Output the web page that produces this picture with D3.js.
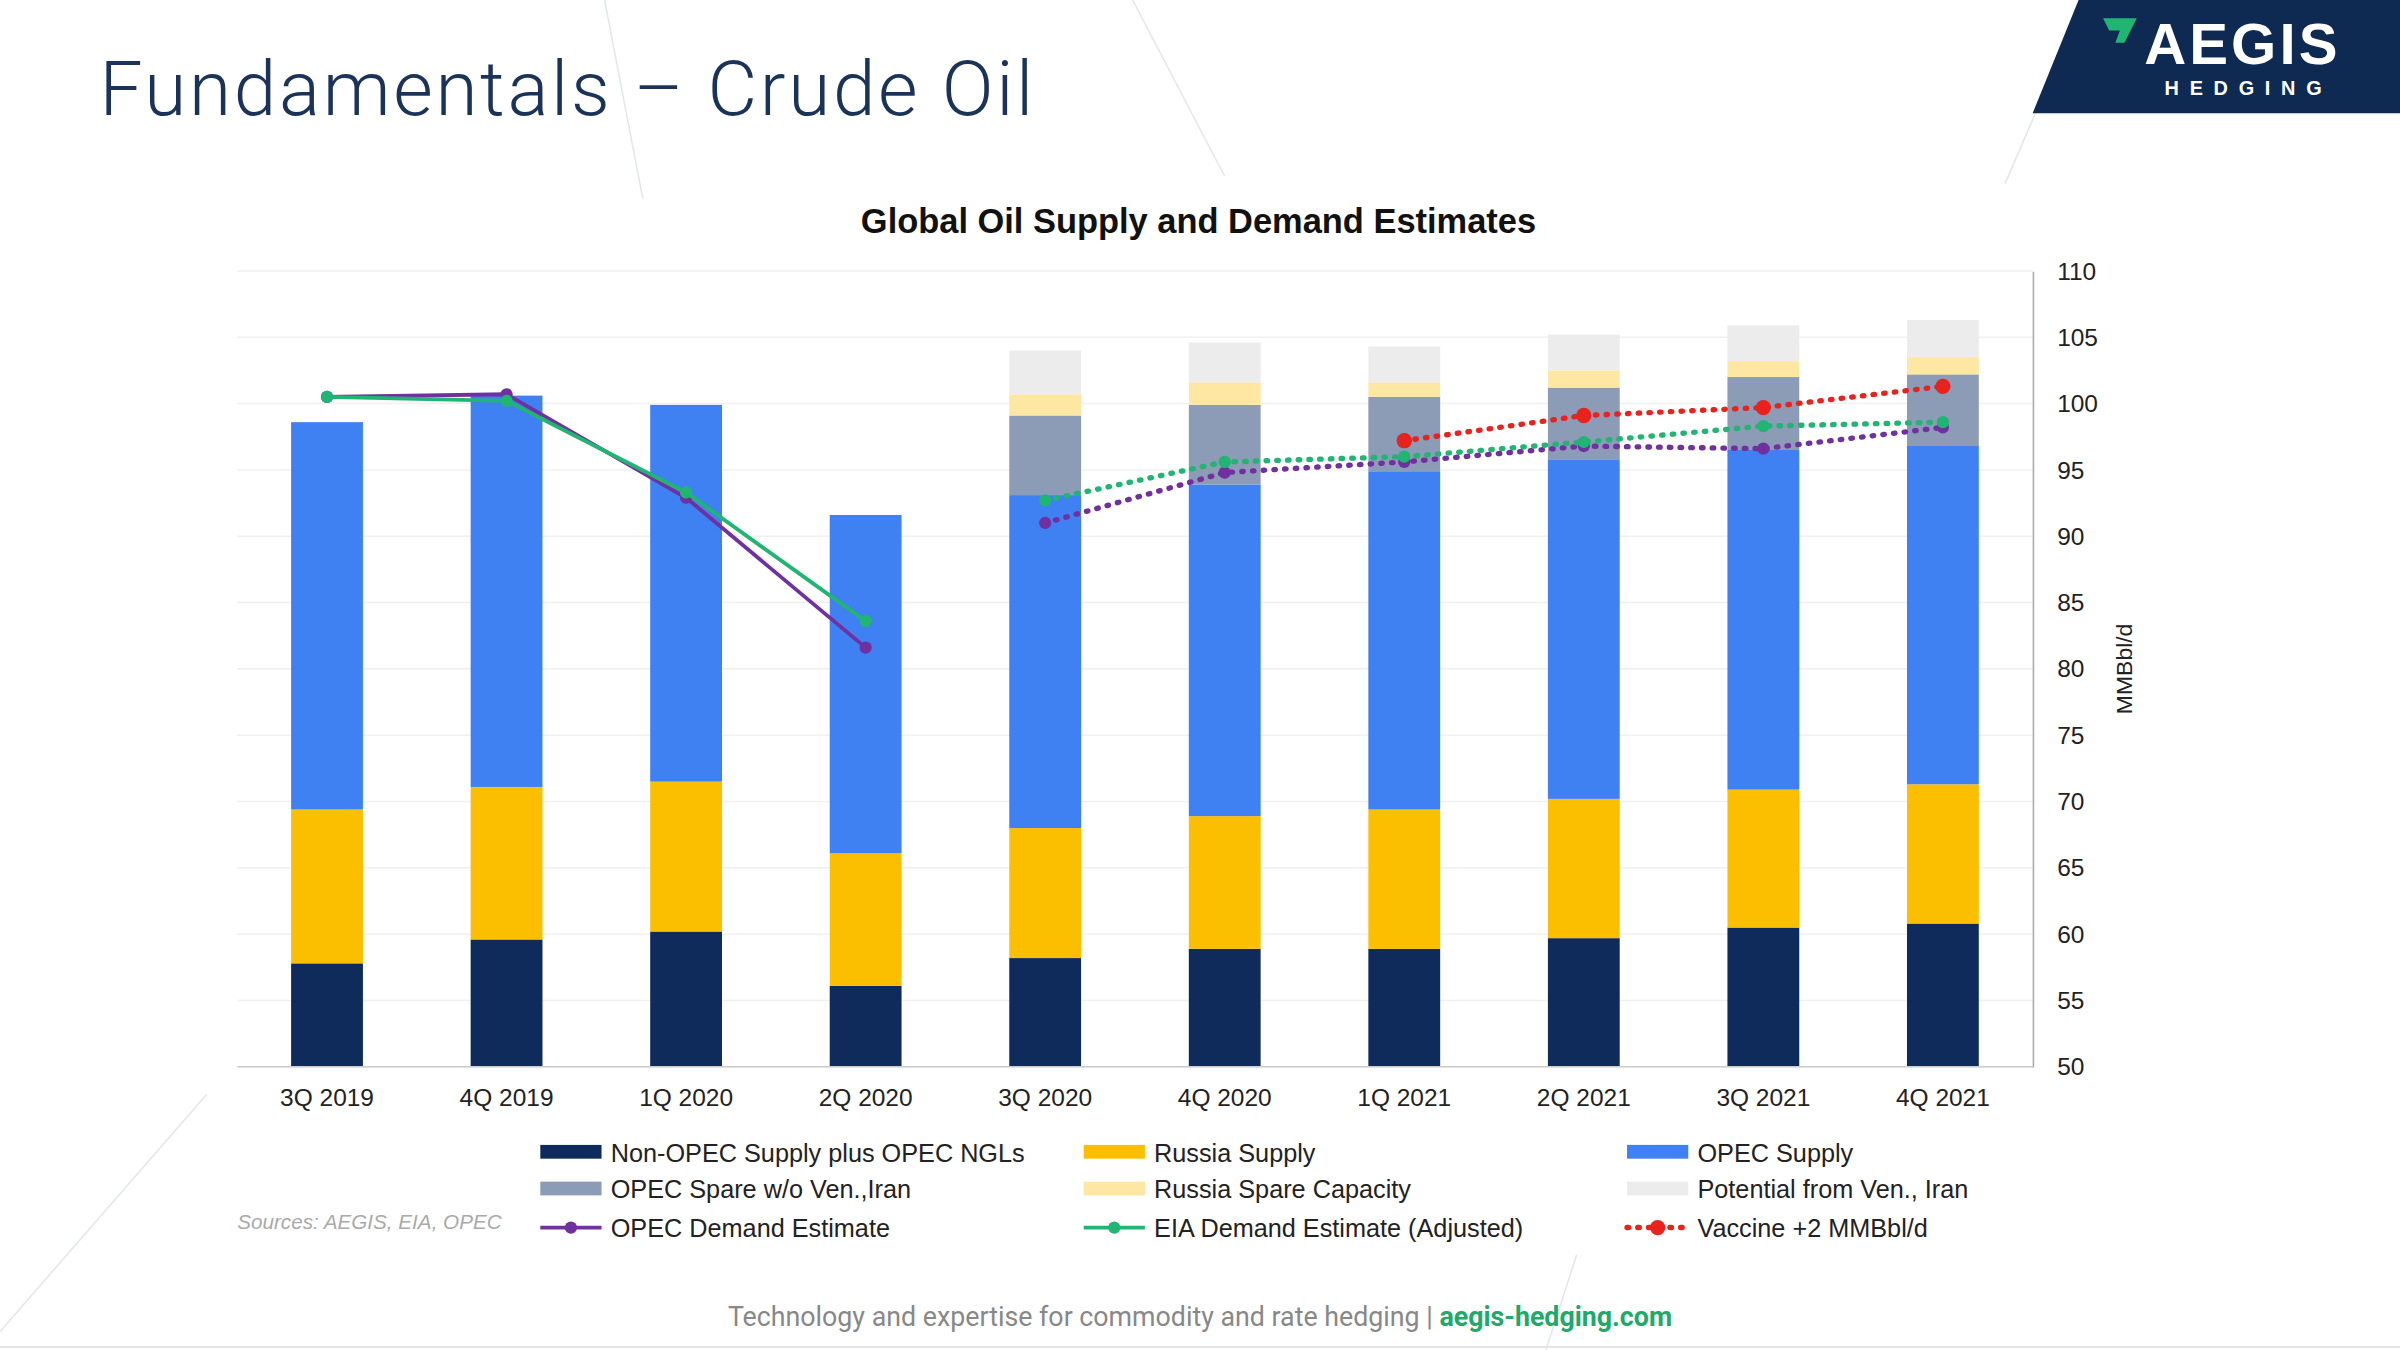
<!DOCTYPE html>
<html><head><meta charset="utf-8">
<script src="https://cdn.jsdelivr.net/npm/d3@7"></script>
<style>body{margin:0;background:#fff}svg{display:block}</style>
</head><body><svg id="c" width="2400" height="1350" viewBox="0 0 1568 882"></svg>
<script>
const categories=["3Q 2019","4Q 2019","1Q 2020","2Q 2020","3Q 2020","4Q 2020","1Q 2021","2Q 2021","3Q 2021","4Q 2021"];
const nonOpec=[57.8,59.6,60.2,56.1,58.2,58.9,58.9,59.7,60.5,60.8];
const russia=[11.6,11.5,11.3,10.0,9.8,10.0,10.5,10.5,10.4,10.5];
const opec=[29.2,29.5,28.4,25.5,25.1,25.0,25.5,25.6,25.6,25.5];
const opecSpare=[0,0,0,0,6.0,6.0,5.6,5.4,5.5,5.4];
const russiaSpare=[0,0,0,0,1.6,1.7,1.1,1.3,1.2,1.3];
const potential=[0,0,0,0,3.3,3.0,2.7,2.7,2.7,2.8];
const opecDemand=[100.5,100.7,92.9,81.6,91.0,94.8,95.6,96.8,96.6,98.2];
const eiaDemand=[100.5,100.2,93.3,83.6,92.7,95.6,96.0,97.1,98.3,98.6];
const vaccine=[null,null,null,null,null,null,97.2,99.1,99.7,101.3];
const yTicks=[50,55,60,65,70,75,80,85,90,95,100,105,110];

const svg=d3.select("#c");
const F="Liberation Sans, Arial, sans-serif";
[[395,0,420,130],[740,0,800,115],[1310,120,1340,50],[0,870,135,715],[1010,882,1030,820]].forEach(l=>
 svg.append("line").attr("x1",l[0]).attr("y1",l[1]).attr("x2",l[2]).attr("y2",l[3]).attr("stroke","#e4e6ea").attr("stroke-width",1));
svg.append("text").attr("x",65).attr("y",75).attr("font-family","Roboto, sans-serif").attr("font-size",50).attr("font-weight",300).attr("fill","#1b3358").attr("textLength",610).text("Fundamentals – Crude Oil");
svg.append("path").attr("d","M1358,0 L1568,0 L1568,74 L1328,74 Z").attr("fill","#0f2a52");
svg.append("path").attr("d","M1374,12 L1396,12 L1388,28 L1382,28 L1385,20 L1378,20 Z").attr("fill","#21b573");
svg.append("text").attr("x",1465).attr("y",42).attr("text-anchor","middle").attr("font-family",F).attr("font-size",38).attr("font-weight","bold").attr("fill","#fff").attr("letter-spacing",2).text("AEGIS");
svg.append("text").attr("x",1469).attr("y",62).attr("text-anchor","middle").attr("font-family",F).attr("font-size",13).attr("font-weight","bold").attr("fill","#fff").attr("letter-spacing",7).text("HEDGING");

svg.append("text").attr("x",783).attr("y",152).attr("text-anchor","middle").attr("font-family",F).attr("font-size",22.5).attr("font-weight","bold").attr("fill","#111").text("Global Oil Supply and Demand Estimates");

const x=d3.scaleBand().domain(categories).range([155,1328]).paddingInner(0.6).paddingOuter(0.3);
const y=d3.scaleLinear().domain([50,110]).range([697,177]);
const g=svg.append("g");
yTicks.forEach(t=>g.append("line").attr("x1",155).attr("x2",1328).attr("y1",y(t)).attr("y2",y(t)).attr("stroke","#f0f0f0"));

const series=[["Non-OPEC Supply plus OPEC NGLs",nonOpec,"#0e2b5c"],["Russia Supply",russia,"#fbbf00"],["OPEC Supply",opec,"#3f80f2"],
["OPEC Spare w/o Ven.,Iran",opecSpare,"#8c9bb6"],["Russia Spare Capacity",russiaSpare,"#fde7a3"],["Potential from Ven., Iran",potential,"#ececec"]];
categories.forEach((c,i)=>{let base=0;series.forEach(s=>{const v=s[1][i];if(v>0){const lo=Math.max(base,50);g.append("rect").attr("x",x(c)).attr("width",x.bandwidth()).attr("y",y(base+v)).attr("height",y(lo)-y(base+v)).attr("fill",s[2]);}base+=v;});});

svg.append("line").attr("x1",155).attr("x2",1328).attr("y1",697).attr("y2",697).attr("stroke","#ccc");
const ax=svg.append("g").attr("transform","translate(1328,0)").call(d3.axisRight(y).tickValues(yTicks).tickSize(0).tickPadding(16));
ax.select(".domain").attr("stroke","#aaa");ax.selectAll("text").attr("font-family",F).attr("font-size",16).attr("fill","#222");
const xa=svg.append("g").attr("transform","translate(0,697)").call(d3.axisBottom(x).tickSize(0).tickPadding(14));
xa.select(".domain").remove();xa.selectAll("text").attr("font-family",F).attr("font-size",16).attr("fill","#222");
svg.append("text").attr("transform","translate(1393,437) rotate(-90)").attr("text-anchor","middle").attr("font-family",F).attr("font-size",15).attr("fill","#222").text("MMBbl/d");

const cx=c=>x(c)+x.bandwidth()/2;
function drawLine(vals,color,from,to,dashed){
 const pts=categories.map((c,i)=>[c,vals[i]]).slice(from,to).filter(p=>p[1]!=null);
 svg.append("path").attr("d",d3.line().x(p=>cx(p[0])).y(p=>y(p[1]))(pts)).attr("fill","none").attr("stroke",color).attr("stroke-width",dashed?3.5:2.5)
  .attr("stroke-dasharray",dashed?"1 6":null).attr("stroke-linecap","round");
 pts.forEach(p=>svg.append("circle").attr("cx",cx(p[0])).attr("cy",y(p[1])).attr("r",dashed&&color==="#e8221c"?5:4).attr("fill",color));
}
drawLine(opecDemand,"#7030a0",0,4,false);drawLine(opecDemand,"#7030a0",4,10,true);
drawLine(eiaDemand,"#21b573",0,4,false);drawLine(eiaDemand,"#21b573",4,10,true);
drawLine(vaccine,"#e8221c",0,10,true);

const leg=[["Non-OPEC Supply plus OPEC NGLs","#0e2b5c","bar"],["Russia Supply","#fbbf00","bar"],["OPEC Supply","#3f80f2","bar"],
["OPEC Spare w/o Ven.,Iran","#8c9bb6","bar"],["Russia Spare Capacity","#fde7a3","bar"],["Potential from Ven., Iran","#ececec","bar"],
["OPEC Demand Estimate","#7030a0","line"],["EIA Demand Estimate (Adjusted)","#21b573","line"],["Vaccine +2 MMBbl/d","#e8221c","dot"]];
const lx=[353,708,1063],ly=[753,777,802];
leg.forEach((l,i)=>{const X=lx[i%3],Y=ly[Math.floor(i/3)];
 if(l[2]==="bar")svg.append("rect").attr("x",X).attr("y",Y-5).attr("width",40).attr("height",9).attr("fill",l[1]);
 else if(l[2]==="line"){svg.append("line").attr("x1",X).attr("x2",X+40).attr("y1",Y).attr("y2",Y).attr("stroke",l[1]).attr("stroke-width",2.5);svg.append("circle").attr("cx",X+20).attr("cy",Y).attr("r",4).attr("fill",l[1]);}
 else{svg.append("line").attr("x1",X).attr("x2",X+40).attr("y1",Y).attr("y2",Y).attr("stroke",l[1]).attr("stroke-width",3.5).attr("stroke-dasharray","1 6").attr("stroke-linecap","round");svg.append("circle").attr("cx",X+20).attr("cy",Y).attr("r",5).attr("fill",l[1]);}
 svg.append("text").attr("x",X+46).attr("y",Y+6).attr("font-family",F).attr("font-size",16.5).attr("fill","#222").text(l[0]);});
svg.append("text").attr("x",155).attr("y",803).attr("font-family",F).attr("font-size",13.5).attr("font-style","italic").attr("fill","#aaa").text("Sources: AEGIS, EIA, OPEC");
const ft=svg.append("text").attr("x",784).attr("y",866).attr("text-anchor","middle").attr("font-family","Roboto, sans-serif").attr("font-size",17.5).attr("fill","#888");
ft.append("tspan").text("Technology and expertise for commodity and rate hedging | ");
ft.append("tspan").attr("fill","#21a86b").attr("font-weight","bold").text("aegis-hedging.com");
svg.append("line").attr("x1",0).attr("x2",1568).attr("y1",880).attr("y2",880).attr("stroke","#ddd");
</script></body></html>
